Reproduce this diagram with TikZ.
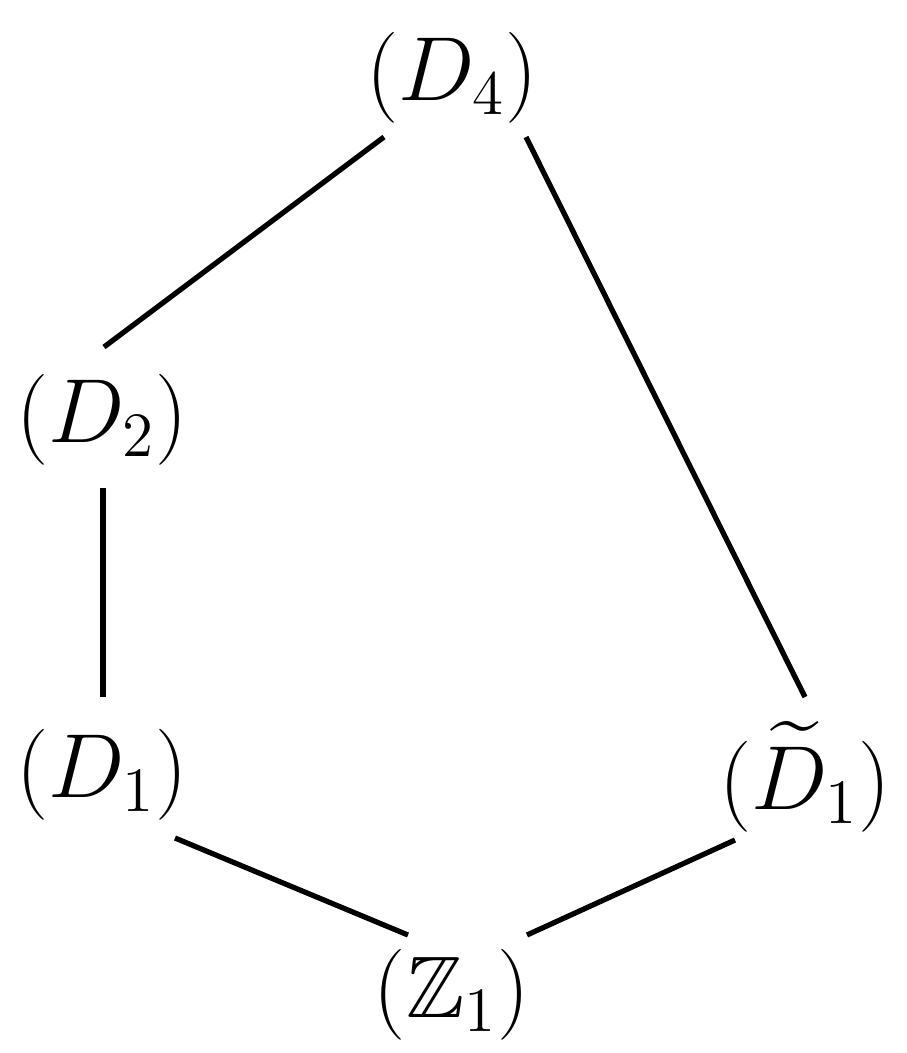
\documentclass[tikz,border=0pt]{standalone}
\usepackage{amssymb}
\begin{document}
\begin{tikzpicture}[x=0.19pt,y=-0.19pt,lbl/.style={font=\fontsize{16.6}{19}\selectfont,inner sep=0pt},edge/.style={line width=1pt}]
\useasboundingbox (0,0) rectangle (907,1053);
\node[lbl] (d4) at (452,78) {$(D_4)$};
\node[lbl] (d2) at (102,420) {$(D_2)$};
\node[lbl] (d1) at (102,775) {$(D_1)$};
\node[lbl] (dt) at (805,777) {$(\widetilde{D}_1)$};
\node[lbl] (z1) at (452,995) {$(\mathbb{Z}_1)$};
\coordinate (a1) at (384,137); \coordinate (a2) at (104,347);
\coordinate (b1) at (526,137); \coordinate (b2) at (805,697);
\coordinate (c1) at (103,488); \coordinate (c2) at (103,697);
\coordinate (e1) at (175,838); \coordinate (e2) at (408,935);
\coordinate (f1) at (735,840); \coordinate (f2) at (527,935);
\draw[edge] (a1) -- (a2);
\draw[edge] (b1) -- (b2);
\draw[edge] (c1) -- (c2);
\draw[edge] (e1) -- (e2);
\draw[edge] (f1) -- (f2);
\end{tikzpicture}
\end{document}
